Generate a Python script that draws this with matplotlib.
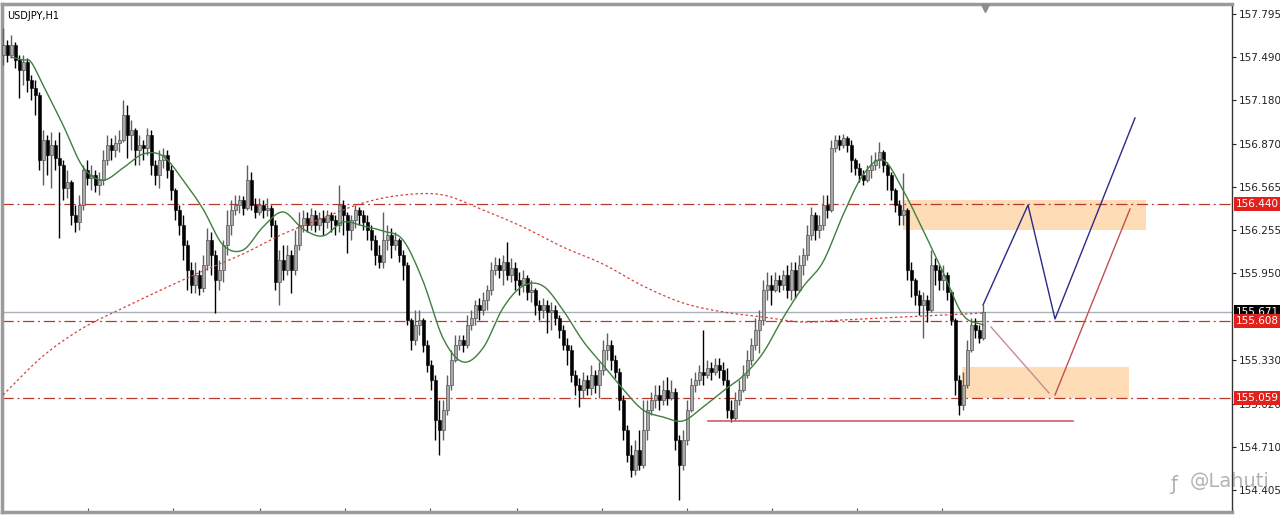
import numpy as np
import matplotlib
matplotlib.use("Agg")
import matplotlib.pyplot as plt

# ---------------- data (USDJPY, H1) ----------------
first_open = 157.503
closes = [
    157.575, 157.503, 157.575, 157.468, 157.397, 157.454, 157.325, 157.268, 157.219, 156.756,
    156.898, 156.791, 156.863, 156.770, 156.720, 156.556, 156.599, 156.364, 156.314, 156.435,
    156.685, 156.628, 156.649, 156.578, 156.613, 156.756, 156.863, 156.827, 156.877, 156.898,
    157.076, 156.934, 156.969, 156.827, 156.863, 156.841, 156.934, 156.720, 156.649, 156.756,
    156.791, 156.685, 156.542, 156.400, 156.293, 156.151, 155.973, 155.866, 155.937, 155.844,
    156.008, 156.186, 156.079, 155.901, 155.973, 156.151, 156.293, 156.400, 156.435, 156.471,
    156.414, 156.613, 156.435, 156.386, 156.435, 156.400, 156.414, 156.293, 155.887, 156.044,
    155.973, 156.079, 155.973, 156.151, 156.293, 156.343, 156.293, 156.364, 156.293, 156.343,
    156.314, 156.364, 156.329, 156.293, 156.435, 156.364, 156.257, 156.329, 156.400, 156.364,
    156.314, 156.257, 156.186, 156.079, 156.030, 156.186, 156.222, 156.151, 156.186, 156.079,
    156.008, 155.617, 155.474, 155.581, 155.617, 155.439, 155.296, 155.189, 154.905, 154.834,
    154.976, 155.154, 155.332, 155.439, 155.474, 155.439, 155.581, 155.631, 155.723, 155.687,
    155.759, 155.830, 155.973, 156.008, 155.973, 156.030, 155.937, 155.987, 155.901, 155.866,
    155.916, 155.816, 155.830, 155.723, 155.687, 155.723, 155.674, 155.687, 155.631, 155.545,
    155.439, 155.403, 155.225, 155.154, 155.118, 155.189, 155.132, 155.225, 155.154, 155.261,
    155.403, 155.439, 155.332, 155.246, 155.047, 154.834, 154.655, 154.549, 154.691, 154.584,
    154.834, 154.976, 155.047, 155.083, 155.047, 155.118, 155.061, 155.104, 154.762, 154.584,
    154.762, 154.976, 155.154, 155.189, 155.246, 155.225, 155.275, 155.246, 155.296, 155.261,
    155.189, 154.976, 154.919, 155.047, 155.118, 155.225, 155.332, 155.439, 155.545, 155.617,
    155.830, 155.866, 155.830, 155.901, 155.866, 155.937, 155.830, 155.973, 155.830, 156.008,
    156.079, 156.222, 156.364, 156.257, 156.293, 156.435, 156.400, 156.841, 156.898, 156.863,
    156.912, 156.863, 156.756, 156.699, 156.649, 156.613, 156.685, 156.720, 156.756, 156.813,
    156.720, 156.649, 156.542, 156.435, 156.364, 156.400, 155.973, 155.901, 155.795, 155.723,
    155.759, 155.687, 156.008, 155.973, 155.901, 155.937, 155.816, 155.617, 155.189, 155.011,
    155.154, 155.403, 155.581, 155.545, 155.488, 155.671,
]
highs = [
    157.696, 157.610, 157.646, 157.596, 157.503, 157.503, 157.482, 157.361, 157.325, 157.240,
    156.969, 156.934, 156.955, 156.898, 156.955, 156.756, 156.685, 156.613, 156.435, 156.507,
    156.720, 156.756, 156.720, 156.685, 156.670, 156.827, 156.934, 156.912, 156.934, 156.969,
    157.183, 157.147, 157.041, 156.984, 156.934, 156.898, 156.984, 156.969, 156.756, 156.827,
    156.841, 156.827, 156.720, 156.556, 156.435, 156.364, 156.186, 156.030, 156.030, 155.973,
    156.079, 156.272, 156.243, 156.115, 156.044, 156.186, 156.400, 156.471, 156.507, 156.507,
    156.500, 156.720, 156.670, 156.485, 156.485, 156.471, 156.485, 156.435, 156.329, 156.115,
    156.151, 156.151, 156.115, 156.257, 156.386, 156.400, 156.386, 156.414, 156.400, 156.386,
    156.400, 156.400, 156.386, 156.364, 156.578, 156.471, 156.386, 156.364, 156.435, 156.421,
    156.400, 156.364, 156.293, 156.222, 156.151, 156.386, 156.293, 156.272, 156.243, 156.200,
    156.115, 156.030, 155.631, 155.687, 155.687, 155.631, 155.474, 155.332, 155.225, 155.047,
    155.047, 155.225, 155.403, 155.510, 155.510, 155.510, 155.652, 155.687, 155.759, 155.773,
    155.816, 155.866, 156.030, 156.065, 156.058, 156.079, 156.172, 156.058, 156.030, 155.958,
    155.973, 155.937, 155.901, 155.844, 155.759, 155.773, 155.759, 155.745, 155.723, 155.652,
    155.581, 155.488, 155.439, 155.261, 155.204, 155.246, 155.225, 155.296, 155.261, 155.318,
    155.474, 155.524, 155.474, 155.367, 155.275, 155.083, 154.869, 154.727, 154.762, 154.834,
    155.047, 155.047, 155.104, 155.154, 155.154, 155.189, 155.211, 155.189, 155.132, 154.798,
    154.834, 155.047, 155.204, 155.246, 155.296, 155.545, 155.332, 155.318, 155.346, 155.346,
    155.318, 155.275, 155.047, 155.104, 155.189, 155.296, 155.403, 155.488, 155.631, 155.687,
    155.901, 155.958, 155.937, 155.958, 155.937, 155.973, 156.008, 156.030, 156.030, 156.079,
    156.129, 156.293, 156.421, 156.386, 156.364, 156.507, 156.507, 156.898, 156.934, 156.934,
    156.941, 156.927, 156.898, 156.770, 156.734, 156.685, 156.720, 156.791, 156.813, 156.884,
    156.827, 156.742, 156.670, 156.556, 156.471, 156.663, 156.414, 156.030, 155.916, 155.830,
    155.816, 155.795, 156.115, 156.058, 156.008, 156.008, 155.958, 155.830, 155.631, 155.225,
    155.246, 155.474, 155.631, 155.631, 155.581, 155.723,
]
lows = [
    157.432, 157.454, 157.482, 157.411, 157.197, 157.290, 157.240, 157.183, 157.076, 156.685,
    156.578, 156.649, 156.556, 156.685, 156.200, 156.471, 156.485, 156.293, 156.243, 156.257,
    156.400, 156.578, 156.542, 156.528, 156.507, 156.578, 156.720, 156.756, 156.777, 156.813,
    156.884, 156.770, 156.827, 156.720, 156.720, 156.756, 156.791, 156.649, 156.578, 156.556,
    156.699, 156.628, 156.471, 156.329, 156.222, 156.044, 155.830, 155.809, 155.809, 155.795,
    155.816, 155.973, 155.937, 155.666, 155.830, 155.887, 156.079, 156.222, 156.364, 156.379,
    156.364, 156.400, 156.400, 156.343, 156.364, 156.343, 156.357, 156.208, 155.830, 155.723,
    155.901, 155.937, 155.809, 155.937, 156.115, 156.243, 156.243, 156.257, 156.243, 156.257,
    156.222, 156.272, 156.243, 156.222, 156.243, 156.222, 156.094, 156.186, 156.272, 156.293,
    156.257, 156.186, 156.115, 156.008, 155.987, 155.987, 156.115, 156.058, 156.115, 156.030,
    155.901, 155.581, 155.403, 155.439, 155.510, 155.389, 155.246, 155.118, 154.762, 154.655,
    154.762, 154.940, 155.118, 155.318, 155.403, 155.389, 155.417, 155.545, 155.581, 155.617,
    155.652, 155.687, 155.795, 155.937, 155.916, 155.866, 155.901, 155.887, 155.830, 155.795,
    155.816, 155.759, 155.745, 155.652, 155.617, 155.631, 155.524, 155.545, 155.581, 155.488,
    155.403, 155.296, 155.175, 155.083, 154.997, 155.061, 155.083, 155.083, 155.097, 155.061,
    155.225, 155.332, 155.261, 155.204, 154.976, 154.762, 154.606, 154.499, 154.513, 154.549,
    154.563, 154.762, 154.940, 154.990, 154.976, 155.011, 155.011, 155.047, 154.691, 154.335,
    154.549, 154.727, 154.962, 155.104, 155.154, 155.154, 155.204, 155.189, 155.225, 155.204,
    155.154, 154.919, 154.890, 154.905, 155.011, 155.104, 155.204, 155.296, 155.403, 155.382,
    155.581, 155.759, 155.723, 155.816, 155.816, 155.830, 155.773, 155.759, 155.773, 155.816,
    155.937, 156.044, 156.186, 156.186, 156.200, 156.257, 156.343, 156.386, 156.813, 156.827,
    156.841, 156.813, 156.670, 156.649, 156.599, 156.578, 156.599, 156.628, 156.685, 156.699,
    156.670, 156.542, 156.471, 156.386, 156.293, 156.293, 155.901, 155.780, 155.723, 155.652,
    155.488, 155.602, 155.674, 155.866, 155.830, 155.830, 155.759, 155.581, 155.083, 154.940,
    154.976, 155.132, 155.389, 155.488, 155.453, 155.474,
]
opens = [first_open] + closes[:-1]

# moving averages (bar index, price)
ma_fast_idx = [2, 5, 7, 10, 15, 20, 25, 30, 35, 40, 45, 50, 55, 60, 65, 70, 75, 80, 85, 90,
               95, 100, 105, 110, 115, 120, 125, 130, 135, 140, 145, 150, 155, 160, 165, 170,
               175, 180, 185, 190, 195, 200, 205, 210, 215, 220, 225, 230, 235, 240, 245]
ma_fast = [157.489, 157.468, 157.454, 157.290, 157.005, 156.706, 156.613, 156.699, 156.798,
           156.784, 156.613, 156.407, 156.151, 156.115, 156.279, 156.386, 156.265, 156.215,
           156.314, 156.286, 156.250, 156.186, 155.894, 155.488, 155.318, 155.417, 155.702,
           155.859, 155.859, 155.687, 155.467, 155.296, 155.125, 154.976, 154.926, 154.898,
           154.997, 155.111, 155.218, 155.382, 155.631, 155.852, 156.030, 156.364, 156.649,
           156.756, 156.542, 156.257, 155.958, 155.652, 155.581]
ma_slow_idx = [0, 10, 20, 30, 40, 50, 60, 70, 80, 90, 100, 110, 120, 130, 140, 150, 160,
               170, 180, 190, 200, 210, 220, 230, 240, 245]
ma_slow = [155.083, 155.360, 155.560, 155.702, 155.837, 155.966, 156.087, 156.229, 156.343,
           156.450, 156.507, 156.507, 156.400, 156.279, 156.136, 156.015, 155.859, 155.738,
           155.674, 155.638, 155.602, 155.617, 155.631, 155.645, 155.659, 155.666]

# levels and drawings
levels = [156.440, 155.608, 155.059]
current_price = 155.671
tick_values = [157.795, 157.490, 157.180, 156.870, 156.565, 156.255, 155.950,
               155.330, 155.020, 154.710, 154.405]
blue_path_idx = [245, 256.25, 263, 283]
blue_path_price = [155.723, 156.435, 155.624, 157.055]
pink_path_idx = [247, 261.5]
pink_path_price = [155.567, 155.097]
red_path_idx = [263, 281.75]
red_path_price = [155.083, 156.407]
support_idx = [176.25, 267.5]
support_price = 154.898
zone_upper = (225, 285.75, 156.257, 156.471)
zone_lower = (239.75, 281.5, 155.061, 155.282)
symbol_title = "USDJPY,H1"
watermark = "@Lahuti"


def smooth_curve(xs, ys, steps=12):
    """Catmull-Rom rendering of a line through the given points."""
    xs = np.asarray(xs, float); ys = np.asarray(ys, float)
    px = np.concatenate([[2 * xs[0] - xs[1]], xs, [2 * xs[-1] - xs[-2]]])
    py = np.concatenate([[2 * ys[0] - ys[1]], ys, [2 * ys[-1] - ys[-2]]])
    ox, oy = [], []
    t = np.linspace(0, 1, steps, endpoint=False)
    for k in range(1, len(px) - 2):
        for arr, out in ((px, ox), (py, oy)):
            p0, p1, p2, p3 = arr[k - 1], arr[k], arr[k + 1], arr[k + 2]
            out.extend(0.5 * ((2 * p1) + (-p0 + p2) * t + (2 * p0 - 5 * p1 + 4 * p2 - p3) * t ** 2
                              + (-p0 + 3 * p1 - 3 * p2 + p3) * t ** 3))
    ox.append(xs[-1]); oy.append(ys[-1])
    return np.array(ox), np.array(oy)


# ---------------- figure ----------------
W, H = 1280, 515
fig = plt.figure(figsize=(W / 100, H / 100), dpi=100)
fig.patch.set_facecolor("white")
ax = fig.add_axes([2 / W, 3 / H, 1230 / W, 508 / H])
ax.set_xlim(-0.25, 307.25)
ax.set_ylim(154.2496, 157.8665)
ax.set_facecolor("white")

# zones
for x0, x1, y0, y1 in (zone_upper, zone_lower):
    ax.fill_between([x0, x1], y0, y1, color="#fddcb6", lw=0, zorder=1)

# horizontal levels
for lv in levels:
    ax.axhline(lv, color="#b8392e", lw=0.9, ls=(0, (9, 3, 1.5, 3)), zorder=2)
ax.axhline(current_price, color="#a9b1ba", lw=1.0, zorder=2)

# candles
o = np.array(opens); c = np.array(closes); hh = np.array(highs); ll = np.array(lows)
idx = np.arange(len(c))
up = c >= o
ax.vlines(idx[up], ll[up], hh[up], color="#5e5e5e", lw=1.0, zorder=3)
ax.vlines(idx[~up], ll[~up], hh[~up], color="black", lw=1.0, zorder=3)
body_up = np.maximum(c[up] - o[up], 0.006)
body_dn = np.maximum(o[~up] - c[~up], 0.006)
ax.bar(idx[up], body_up, bottom=o[up], width=0.75, color="#a9a9a9",
       edgecolor="#555555", lw=0.5, zorder=4)
ax.bar(idx[~up], body_dn, bottom=c[~up], width=0.75, color="black",
       edgecolor="black", lw=0.4, zorder=4)

# moving averages
fx, fy = smooth_curve(ma_fast_idx, ma_fast)
ax.plot(fx, fy, color="#3f7f3f", lw=1.0, zorder=5)
sx, sy = smooth_curve(ma_slow_idx, ma_slow)
ax.plot(sx, sy, color="#d9413a", lw=0.9, ls=(0, (2, 2)), zorder=5)

# drawings
ax.plot(blue_path_idx, blue_path_price, color="#2a2a8a", lw=1.0, zorder=6)
ax.plot(pink_path_idx, pink_path_price, color="#c98a96", lw=1.0, zorder=6)
ax.plot(red_path_idx, red_path_price, color="#c0504d", lw=1.0, zorder=6)
ax.plot(support_idx, [support_price, support_price], color="#d65a6a", lw=1.2, zorder=6)

# axes styling
ax.yaxis.tick_right()
ax.set_yticks(tick_values)
ax.set_yticklabels([f"{v:.3f}" for v in tick_values])
ax.tick_params(axis="y", direction="out", length=3, width=0.8, pad=2,
               labelsize=7.5, colors="#222222")
time_tick_px = [88, 173, 260, 345, 430, 517, 602, 687, 772, 857, 942]
ax.set_xticks([(p - 3) / 4 for p in time_tick_px])
ax.tick_params(axis="x", direction="in", length=3, width=0.8, colors="#555555",
               labelbottom=False)
for side in ("left", "top", "bottom"):
    ax.spines[side].set_color("#9a9a9a")
    ax.spines[side].set_linewidth(2.5)
ax.spines["right"].set_color("#333333")
ax.spines["right"].set_linewidth(1.0)

# price tags on the axis
def tag(price, fc):
    ax.annotate(f"{price:.3f}", xy=(1.0, price), xycoords=("axes fraction", "data"),
                xytext=(3, 0), textcoords="offset points", va="center", ha="left",
                fontsize=7.5, color="white", zorder=10, annotation_clip=False,
                bbox=dict(boxstyle="square,pad=0.18", fc=fc, ec="none"))

tag(levels[0], "#e3211c")
tag(current_price, "#000000")
tag(levels[1], "#e3211c")
tag(levels[2], "#e3211c")

# title and markers
ax.text(5 / 1230, 1 - 7 / 508, symbol_title, transform=ax.transAxes, fontsize=7,
        va="top", ha="left", color="black")
ax.plot([245.5], [157.835], marker="v", ms=6, color="#8c8c8c", clip_on=False, zorder=10)

# watermark
fig.text(1170 / W, 1 - 484 / H, "\u0192", fontsize=14, color="#9a9a9a", alpha=0.8,
         va="center", ha="left")
fig.text(1190 / W, 1 - 482 / H, watermark, fontsize=14, color="#9a9a9a", alpha=0.75,
         va="center", ha="left")

fig.savefig("out.png", dpi=100, facecolor="white")
